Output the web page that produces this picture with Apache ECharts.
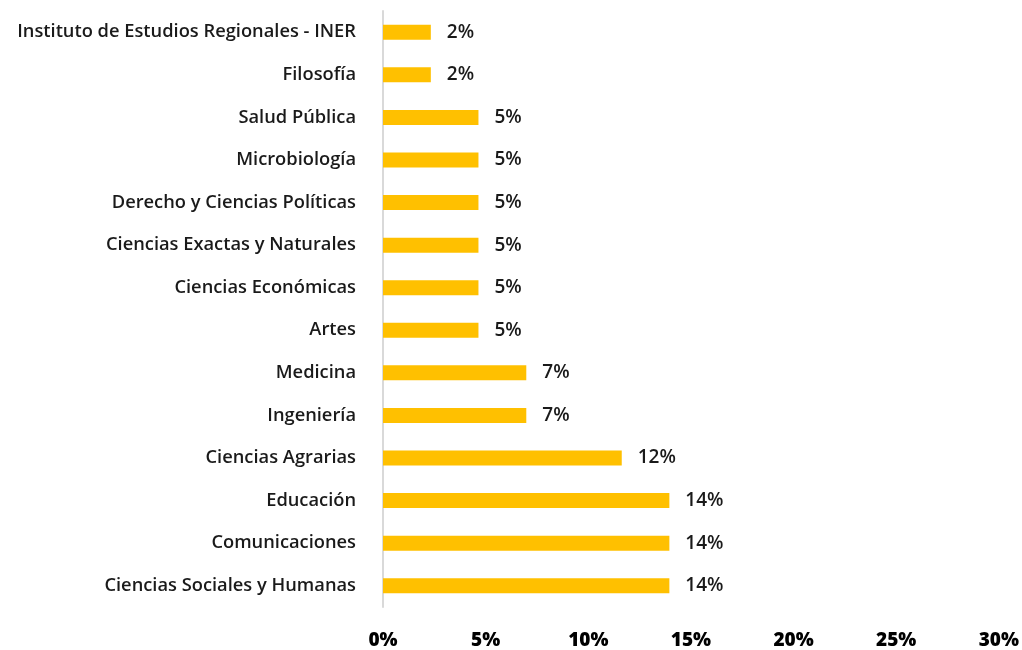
<!DOCTYPE html>
<html>
<head>
<meta charset="utf-8">
<script src="https://cdn.jsdelivr.net/npm/echarts@6/dist/echarts.min.js"></script>
<style>
html,body{margin:0;padding:0;background:#fff;}
#chart{width:1022px;height:650px;}
</style>
</head>
<body>
<div id="chart"></div>
<script>
// Categories listed bottom to top
const categories = [
  'Ciencias Sociales y Humanas',
  'Comunicaciones',
  'Educación',
  'Ciencias Agrarias',
  'Ingeniería',
  'Medicina',
  'Artes',
  'Ciencias Económicas',
  'Ciencias Exactas y Naturales',
  'Derecho y Ciencias Políticas',
  'Microbiología',
  'Salud Pública',
  'Filosofía',
  'Instituto de Estudios Regionales - INER'
];
// Percent values
const values = [13.95, 13.95, 13.95, 11.63, 6.98, 6.98, 4.65, 4.65, 4.65, 4.65, 4.65, 4.65, 2.33, 2.33];
const xTicks = [0, 5, 10, 15, 20, 25, 30];

const FONT = '"Open Sans", Lato, sans-serif';
const chart = echarts.init(document.getElementById('chart'));
chart.setOption({
  animation: false,
  grid: { left: 383, right: 21, top: 11, bottom: 43, containLabel: false },
  xAxis: {
    type: 'value', min: xTicks[0], max: xTicks[xTicks.length - 1], interval: 5,
    axisLine: { show: false }, axisTick: { show: false }, splitLine: { show: false },
    axisLabel: {
      formatter: v => v + '%', margin: 24,
      fontFamily: FONT, fontSize: 19, fontWeight: 800, color: '#000'
    }
  },
  yAxis: {
    type: 'category', data: categories,
    axisLine: { show: true, lineStyle: { color: '#d9d9d9', width: 2 } },
    axisTick: { show: false },
    axisLabel: {
      margin: 27, fontFamily: FONT, fontSize: 18.3, fontWeight: 600, color: '#1a1a1a'
    }
  },
  series: [{
    type: 'bar', data: values, barWidth: 15,
    itemStyle: { color: '#FFC000' },
    label: {
      show: true, position: 'right', distance: 16,
      formatter: p => Math.round(p.value) + '%',
      fontFamily: FONT, fontSize: 19, fontWeight: 600, color: '#1a1a1a'
    }
  }]
});
</script>
</body>
</html>
